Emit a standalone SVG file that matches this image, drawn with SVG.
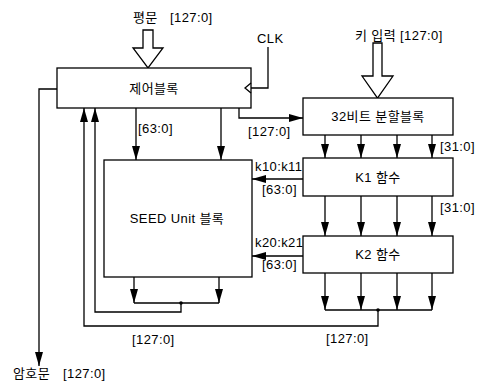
<svg xmlns="http://www.w3.org/2000/svg" width="479" height="383" viewBox="0 0 479 383">
<style>
text{font-family:"Liberation Sans","Noto Sans CJK KR",sans-serif;font-size:13px;letter-spacing:0.4px;fill:#000}
.c{text-anchor:middle}
.box{fill:#fff;stroke:#000;stroke-width:1.3}
.w{fill:none;stroke:#000;stroke-width:1.3}
.a{fill:none;stroke:#000;stroke-width:1.3;marker-end:url(#ah)}
.hollow{fill:#fff;stroke:#000;stroke-width:1.3;stroke-linejoin:miter}
.dot{fill:#000}
</style>
<defs>
<marker id="ah" viewBox="0 0 14 8" refX="14" refY="4" markerWidth="14" markerHeight="8" markerUnits="userSpaceOnUse" orient="auto">
<path d="M0,0 L14,4 L0,8 z" fill="#000"/>
</marker>
</defs>

<g id="connectors">
<path class="a" d="M57,89 H39 V366"/>
<path class="w" d="M268,47 V88 H251"/>
<path class="a" d="M239,108 V118 H303"/>
<path class="a" d="M136,108 V160"/>
<path class="a" d="M221,108 V160"/>
<path class="a" d="M325,135 V158"/>
<path class="a" d="M361,135 V158"/>
<path class="a" d="M397,135 V158"/>
<path class="a" d="M432,135 V158"/>
<path class="a" d="M325,196 V236"/>
<path class="a" d="M361,196 V236"/>
<path class="a" d="M397,196 V236"/>
<path class="a" d="M432,196 V236"/>
<path class="a" d="M303,179 H252"/>
<path class="a" d="M303,256 H252"/>
<path class="a" d="M134,277 V303"/>
<path class="a" d="M219,277 V303"/>
<path class="w" d="M134,303 H219"/>
<circle class="dot" cx="181" cy="303" r="1.8"/>
<path class="a" d="M181,303 V312 H95 V108"/>
<path class="a" d="M325,273 V310"/>
<path class="a" d="M361,273 V310"/>
<path class="a" d="M397,273 V310"/>
<path class="a" d="M432,273 V310"/>
<path class="w" d="M325,310 H432"/>
<circle class="dot" cx="378" cy="310" r="1.8"/>
<path class="a" d="M378,310 V326 H84 V108"/>
</g>

<g id="plaintext">
<text><tspan x="133" y="22">평문</tspan><tspan x="170" y="22">[127:0]</tspan></text>
<path class="hollow" d="M143,30 H153 V48 H163 L148,68 L133,48 H143 Z"/>
</g>

<g id="keyinput">
<text x="355" y="40">키 입력 [127:0]</text>
<path class="hollow" d="M373,43 H382 V76 H393 L377.5,98 L362,76 H373 Z"/>
</g>

<g id="clk">
<text x="257" y="43">CLK</text>
</g>

<g id="control">
<rect class="box" x="57" y="68" width="194" height="40"/>
<polyline class="w" points="251,83 245,88 251,93"/>
<text class="c" x="154" y="93">제어블록</text>
</g>

<g id="split32">
<rect class="box" x="303" y="98" width="150" height="37"/>
<text class="c" x="378" y="121">32비트 분할블록</text>
</g>

<g id="k1">
<rect class="box" x="303" y="158" width="150" height="38"/>
<text class="c" x="378" y="182">K1 함수</text>
</g>

<g id="k2">
<rect class="box" x="303" y="236" width="150" height="37"/>
<text class="c" x="378" y="259">K2 함수</text>
</g>

<g id="seed">
<rect class="box" x="104" y="160" width="148" height="117"/>
<text class="c" x="177" y="223">SEED Unit 블록</text>
</g>

<g id="ciphertext">
<text><tspan x="13" y="378">암호문</tspan><tspan x="63" y="378">[127:0]</tspan></text>
</g>

<g id="labels">
<text x="138" y="133">[63:0]</text>
<text x="248" y="136">[127:0]</text>
<text x="440" y="151">[31:0]</text>
<text x="440" y="212">[31:0]</text>
<text x="255" y="171">k10:k11</text>
<text x="262" y="194">[63:0]</text>
<text x="255" y="247">k20:k21</text>
<text x="262" y="269">[63:0]</text>
<text x="132" y="344">[127:0]</text>
<text x="326" y="343">[127:0]</text>
</g>
</svg>
